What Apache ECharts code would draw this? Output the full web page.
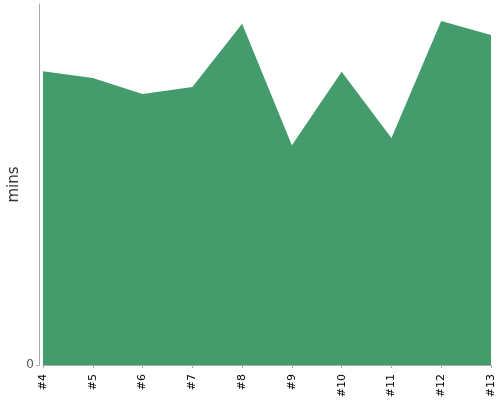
<!DOCTYPE html>
<html><head><meta charset="utf-8">
<script src="https://cdn.jsdelivr.net/npm/echarts@6/dist/echarts.min.js"></script>
<style>html,body{margin:0;padding:0;background:#fff}#c{width:500px;height:400px}</style>
</head><body><div id="c"></div>
<script>
const categories = ['#4','#5','#6','#7','#8','#9','#10','#11','#12','#13'];
const minsValues = [81.4, 79.5, 75.1, 77.0, 94.5, 60.9, 81.2, 62.9, 95.3, 91.4];
const yTickValues = [0];

const chart = echarts.init(document.getElementById('c'), null, {renderer: 'canvas'});
chart.setOption({
  animation: false,
  grid: {left: 43, right: 9, top: 4, bottom: 35, containLabel: false, outerBoundsMode: 'none'},
  xAxis: {
    type: 'category', data: categories, boundaryGap: false, offset: 4,
    axisLine: {lineStyle: {color: '#aaa'}},
    axisTick: {alignWithLabel: true, length: 3, lineStyle: {color: '#aaa'}},
    axisLabel: {rotate: 90, color: '#000', fontSize: 11, fontFamily: 'DejaVu Sans', margin: 5, interval: 0}
  },
  yAxis: {
    type: 'value', min: 0, max: 100, offset: 4,
    name: 'mins', nameLocation: 'middle', nameGap: 17, nameMoveOverlap: false,
    nameTextStyle: {color: '#333', fontSize: 15, fontFamily: 'DejaVu Sans'},
    axisLine: {show: true, lineStyle: {color: '#aaa'}},
    axisTick: {show: true, length: 3, customValues: yTickValues, lineStyle: {color: '#aaa'}},
    axisLabel: {customValues: yTickValues, color: '#555', fontSize: 12, fontFamily: 'DejaVu Sans', margin: 5},
    splitLine: {show: false}
  },
  series: [{
    type: 'line', data: minsValues, symbol: 'none',
    lineStyle: {width: 0, color: '#449c6c'},
    itemStyle: {color: '#449c6c'},
    areaStyle: {color: '#449c6c', opacity: 1}
  }]
});
</script></body></html>
